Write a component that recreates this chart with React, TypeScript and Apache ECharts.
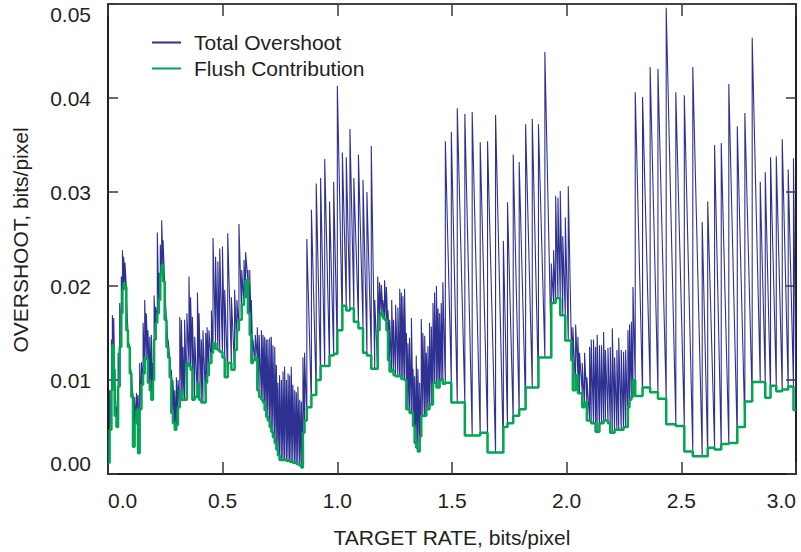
import React, { useEffect, useRef } from "react";
import * as echarts from "echarts";

// ---- Data (x: target rate in bits/pixel, y: overshoot in bits/pixel) ----
// Each entry: a spike position (rate), the total overshoot reached at that rate (total),
// and the flush contribution level that holds from that rate until the next one (flush).

// Segment A1: 0.00 - 0.45 (dense)
const rateA1 = [0.001, 0.007, 0.015, 0.019, 0.025, 0.029, 0.037, 0.044, 0.051, 0.058, 0.063, 0.068, 0.074, 0.080, 0.087, 0.095, 0.102, 0.109, 0.116, 0.124, 0.131, 0.138, 0.146, 0.153, 0.160, 0.167, 0.174, 0.182, 0.189, 0.196, 0.201, 0.208, 0.215, 0.222, 0.228, 0.234, 0.240, 0.247, 0.255, 0.262, 0.269, 0.276, 0.283, 0.291, 0.298, 0.305, 0.313, 0.320, 0.327, 0.334, 0.344, 0.353, 0.360, 0.368, 0.378, 0.390, 0.397, 0.407, 0.414, 0.426, 0.432, 0.440, 0.451];
const totalA1 = [0.0036, 0.0089, 0.0143, 0.0169, 0.0166, 0.0100, 0.0071, 0.0129, 0.0182, 0.0210, 0.0238, 0.0231, 0.0225, 0.0188, 0.0143, 0.0118, 0.0103, 0.0086, 0.0082, 0.0086, 0.0084, 0.0118, 0.0119, 0.0161, 0.0185, 0.0171, 0.0153, 0.0146, 0.0148, 0.0118, 0.0190, 0.0178, 0.0257, 0.0214, 0.0244, 0.0270, 0.0249, 0.0199, 0.0164, 0.0143, 0.0118, 0.0111, 0.0100, 0.0089, 0.0103, 0.0100, 0.0167, 0.0164, 0.0135, 0.0164, 0.0171, 0.0210, 0.0188, 0.0167, 0.0146, 0.0193, 0.0171, 0.0143, 0.0153, 0.0150, 0.0156, 0.0153, 0.0174];
const flushA1 = [0.0012, 0.0047, 0.0089, 0.0137, 0.0111, 0.0062, 0.0050, 0.0093, 0.0135, 0.0171, 0.0196, 0.0203, 0.0199, 0.0153, 0.0135, 0.0107, 0.0082, 0.0029, 0.0054, 0.0068, 0.0022, 0.0069, 0.0095, 0.0107, 0.0124, 0.0122, 0.0097, 0.0089, 0.0079, 0.0100, 0.0143, 0.0161, 0.0171, 0.0185, 0.0212, 0.0222, 0.0205, 0.0164, 0.0135, 0.0124, 0.0103, 0.0065, 0.0054, 0.0047, 0.0052, 0.0071, 0.0089, 0.0079, 0.0079, 0.0079, 0.0118, 0.0115, 0.0111, 0.0079, 0.0082, 0.0097, 0.0079, 0.0076, 0.0076, 0.0097, 0.0105, 0.0118, 0.0129];

// Segment A2: 0.45 - 0.86 (dense)
const rateA2 = [0.458, 0.469, 0.479, 0.487, 0.499, 0.509, 0.522, 0.538, 0.552, 0.562, 0.571, 0.583, 0.593, 0.600, 0.610, 0.618, 0.625, 0.632, 0.642, 0.651, 0.659, 0.669, 0.676, 0.683, 0.690, 0.697, 0.705, 0.712, 0.719, 0.727, 0.734, 0.741, 0.748, 0.756, 0.763, 0.770, 0.778, 0.785, 0.792, 0.799, 0.806, 0.814, 0.821, 0.828, 0.836, 0.843, 0.850, 0.857];
const totalA2 = [0.0251, 0.0231, 0.0226, 0.0240, 0.0242, 0.0196, 0.0256, 0.0188, 0.0196, 0.0185, 0.0266, 0.0217, 0.0228, 0.0236, 0.0217, 0.0217, 0.0185, 0.0143, 0.0148, 0.0156, 0.0148, 0.0153, 0.0148, 0.0146, 0.0143, 0.0143, 0.0145, 0.0146, 0.0137, 0.0135, 0.0116, 0.0097, 0.0105, 0.0100, 0.0109, 0.0114, 0.0100, 0.0107, 0.0105, 0.0114, 0.0095, 0.0089, 0.0087, 0.0093, 0.0079, 0.0077, 0.0124, 0.0129];
const flushA2 = [0.0139, 0.0133, 0.0132, 0.0130, 0.0124, 0.0103, 0.0118, 0.0111, 0.0132, 0.0153, 0.0164, 0.0180, 0.0188, 0.0206, 0.0171, 0.0148, 0.0118, 0.0121, 0.0124, 0.0089, 0.0082, 0.0079, 0.0076, 0.0068, 0.0061, 0.0057, 0.0050, 0.0045, 0.0039, 0.0033, 0.0026, 0.0020, 0.0015, 0.0015, 0.0015, 0.0015, 0.0014, 0.0014, 0.0013, 0.0013, 0.0012, 0.0012, 0.0011, 0.0010, 0.0009, 0.0007, 0.0044, 0.0057];

// Segment B: 0.87 - 1.15 (sparse)
const rateB = [0.867, 0.887, 0.908, 0.927, 0.945, 0.966, 0.984, 1.000, 1.022, 1.039, 1.055, 1.072, 1.092, 1.112, 1.129, 1.148];
const totalB = [0.0250, 0.0281, 0.0309, 0.0315, 0.0335, 0.0290, 0.0311, 0.0413, 0.0342, 0.0337, 0.0367, 0.0315, 0.0340, 0.0313, 0.0300, 0.0349];
const flushB = [0.0071, 0.0084, 0.0100, 0.0115, 0.0115, 0.0126, 0.0128, 0.0153, 0.0179, 0.0174, 0.0176, 0.0162, 0.0155, 0.0129, 0.0126, 0.0112];

// Segment C: 1.16 - 1.46 (dense)
const rateC = [1.163, 1.176, 1.184, 1.192, 1.199, 1.206, 1.214, 1.221, 1.228, 1.237, 1.245, 1.254, 1.264, 1.272, 1.279, 1.286, 1.293, 1.301, 1.308, 1.315, 1.323, 1.330, 1.337, 1.344, 1.351, 1.359, 1.366, 1.373, 1.381, 1.388, 1.395, 1.402, 1.410, 1.417, 1.424, 1.432, 1.439, 1.446, 1.453, 1.460];
const totalC = [0.0185, 0.0210, 0.0204, 0.0201, 0.0185, 0.0206, 0.0199, 0.0174, 0.0164, 0.0185, 0.0164, 0.0180, 0.0177, 0.0197, 0.0193, 0.0189, 0.0197, 0.0150, 0.0139, 0.0145, 0.0166, 0.0112, 0.0104, 0.0126, 0.0112, 0.0097, 0.0165, 0.0150, 0.0147, 0.0129, 0.0136, 0.0161, 0.0157, 0.0182, 0.0193, 0.0200, 0.0176, 0.0171, 0.0182, 0.0204];
const flushC = [0.0112, 0.0153, 0.0169, 0.0172, 0.0166, 0.0164, 0.0153, 0.0121, 0.0109, 0.0111, 0.0105, 0.0104, 0.0104, 0.0104, 0.0101, 0.0101, 0.0100, 0.0069, 0.0069, 0.0065, 0.0065, 0.0051, 0.0033, 0.0028, 0.0024, 0.0040, 0.0062, 0.0062, 0.0062, 0.0069, 0.0069, 0.0074, 0.0074, 0.0097, 0.0097, 0.0092, 0.0092, 0.0100, 0.0101, 0.0096];

// Segment D: 1.47 - 2.01 (sparse)
const rateD = [1.471, 1.497, 1.523, 1.556, 1.588, 1.623, 1.655, 1.690, 1.724, 1.742, 1.767, 1.793, 1.821, 1.850, 1.877, 1.905, 1.933, 1.943, 1.952, 1.962, 1.972, 1.983, 1.994, 2.007];
const totalD = [0.0354, 0.0364, 0.0389, 0.0383, 0.0385, 0.0353, 0.0354, 0.0382, 0.0248, 0.0289, 0.0340, 0.0332, 0.0372, 0.0378, 0.0372, 0.0449, 0.0224, 0.0238, 0.0296, 0.0294, 0.0301, 0.0253, 0.0273, 0.0306];
const flushD = [0.0097, 0.0076, 0.0076, 0.0041, 0.0041, 0.0044, 0.0023, 0.0023, 0.0050, 0.0054, 0.0062, 0.0069, 0.0092, 0.0092, 0.0124, 0.0124, 0.0182, 0.0182, 0.0187, 0.0187, 0.0169, 0.0169, 0.0142, 0.0142];

// Segment E: 2.02 - 2.29 (dense)
const rateE = [2.020, 2.027, 2.039, 2.049, 2.056, 2.068, 2.078, 2.088, 2.100, 2.107, 2.117, 2.126, 2.133, 2.143, 2.152, 2.161, 2.169, 2.180, 2.190, 2.199, 2.209, 2.219, 2.227, 2.238, 2.248, 2.257, 2.267, 2.274, 2.282, 2.289];
const totalE = [0.0156, 0.0156, 0.0159, 0.0146, 0.0129, 0.0118, 0.0129, 0.0103, 0.0135, 0.0143, 0.0143, 0.0135, 0.0148, 0.0137, 0.0137, 0.0151, 0.0132, 0.0134, 0.0135, 0.0155, 0.0124, 0.0132, 0.0145, 0.0132, 0.0130, 0.0132, 0.0153, 0.0159, 0.0162, 0.0199];
const flushE = [0.0121, 0.0089, 0.0105, 0.0086, 0.0086, 0.0071, 0.0076, 0.0057, 0.0057, 0.0054, 0.0054, 0.0045, 0.0045, 0.0054, 0.0054, 0.0057, 0.0057, 0.0054, 0.0044, 0.0044, 0.0047, 0.0047, 0.0047, 0.0047, 0.0050, 0.0050, 0.0071, 0.0079, 0.0082, 0.0100];

// Segment F: 2.30 - 3.00 (sparse)
const rateF = [2.299, 2.331, 2.364, 2.398, 2.434, 2.476, 2.513, 2.550, 2.591, 2.615, 2.645, 2.674, 2.707, 2.744, 2.777, 2.809, 2.844, 2.866, 2.889, 2.914, 2.940, 2.966, 2.989];
const totalF = [0.0406, 0.0401, 0.0433, 0.0431, 0.0496, 0.0406, 0.0403, 0.0433, 0.0268, 0.0290, 0.0350, 0.0352, 0.0415, 0.0370, 0.0384, 0.0464, 0.0311, 0.0321, 0.0337, 0.0338, 0.0356, 0.0324, 0.0336];
const flushF = [0.0083, 0.0092, 0.0087, 0.0080, 0.0053, 0.0051, 0.0024, 0.0019, 0.0019, 0.0028, 0.0026, 0.0032, 0.0033, 0.0050, 0.0077, 0.0098, 0.0098, 0.0081, 0.0094, 0.0088, 0.0090, 0.0093, 0.0068];

const RATE_END = 3.0;

const xTicks = [0, 0.5, 1.0, 1.5, 2.0, 2.5, 3.0];
const yTicks = [0, 0.01, 0.02, 0.03, 0.04, 0.05];

const SERIES_NAMES = ["Total Overshoot", "Flush Contribution"];
const X_NAME = "TARGET RATE, bits/pixel";
const Y_NAME = "OVERSHOOT, bits/pixel";

// ---- Styles ----
const BLUE = "#2e3192";
const GREEN = "#00a651";
const INK = "#231f20";
const FONT = "'Liberation Sans', Arial, Helvetica, sans-serif";
const FS = 21;

function buildSeries() {
  const rate = [...rateA1, ...rateA2, ...rateB, ...rateC, ...rateD, ...rateE, ...rateF];
  const total = [...totalA1, ...totalA2, ...totalB, ...totalC, ...totalD, ...totalE, ...totalF];
  const flush = [...flushA1, ...flushA2, ...flushB, ...flushC, ...flushD, ...flushE, ...flushF];
  const blue: number[][] = [];
  const green: number[][] = [];
  const n = rate.length;
  for (let i = 0; i < n; i++) {
    const next = i + 1 < n ? rate[i + 1] : RATE_END;
    if (i === 0) blue.push([rate[i], flush[i]]);
    blue.push([rate[i], total[i]]);
    blue.push([next, flush[i]]);
    green.push([rate[i], flush[i]]);
  }
  green.push([RATE_END, flush[n - 1]]);
  return { blue, green };
}

export default function App() {
  const ref = useRef<HTMLDivElement>(null);

  useEffect(() => {
    if (!ref.current) return;
    const chart = echarts.init(ref.current, null, { renderer: "svg" });
    const { blue, green } = buildSeries();

    const tickStyle = { color: "#3a3a3a", width: 1.5 };
    const lineStyle = { color: INK, width: 2 };

    chart.setOption({
      animation: false,
      backgroundColor: "#ffffff",
      textStyle: { fontFamily: FONT },
      grid: { left: 108, right: 5, top: 4, bottom: 78 },
      legend: {
        data: SERIES_NAMES,
        orient: "vertical",
        left: 151,
        top: 32,
        padding: 0,
        itemWidth: 29,
        itemHeight: 14,
        itemGap: 5,
        itemStyle: { opacity: 0 },
        textStyle: {
          fontFamily: FONT,
          fontSize: FS,
          color: INK,
          lineHeight: 20,
          padding: [0, 0, 0, 8],
        },
      },
      xAxis: [
        {
          type: "value",
          min: xTicks[0],
          max: xTicks[xTicks.length - 1],
          interval: 0.5,
          position: "bottom",
          axisLine: { show: true, onZero: false, lineStyle },
          axisTick: { show: true, inside: true, length: 12, lineStyle: tickStyle },
          axisLabel: {
            margin: 16,
            fontSize: FS,
            fontFamily: FONT,
            color: INK,
            formatter: (v: number) => v.toFixed(1),
            alignMinLabel: "left",
            alignMaxLabel: "right",
          },
          splitLine: { show: false },
        },
        {
          type: "value",
          min: xTicks[0],
          max: xTicks[xTicks.length - 1],
          interval: 0.5,
          position: "top",
          axisLine: { show: true, onZero: false, lineStyle: { color: "#444", width: 2 } },
          axisTick: { show: true, inside: true, length: 12, lineStyle: tickStyle },
          axisLabel: { show: false },
          splitLine: { show: false },
        },
      ],
      yAxis: [
        {
          type: "value",
          min: yTicks[0],
          max: yTicks[yTicks.length - 1],
          interval: 0.01,
          position: "left",
          axisLine: { show: true, onZero: false, lineStyle },
          axisTick: { show: true, inside: true, length: 10, lineStyle: tickStyle },
          axisLabel: {
            margin: 17,
            fontSize: FS,
            fontFamily: FONT,
            color: INK,
            formatter: (v: number) => v.toFixed(2),
            verticalAlignMinLabel: "bottom",
            verticalAlignMaxLabel: "top",
          },
          splitLine: { show: false },
        },
        {
          type: "value",
          min: yTicks[0],
          max: yTicks[yTicks.length - 1],
          interval: 0.01,
          position: "right",
          axisLine: { show: true, onZero: false, lineStyle },
          axisTick: { show: true, inside: true, length: 10, lineStyle: tickStyle },
          axisLabel: { show: false },
          splitLine: { show: false },
        },
      ],
      series: [
        {
          name: SERIES_NAMES[0],
          type: "line",
          data: blue,
          symbol: "none",
          showSymbol: false,
          lineStyle: { color: BLUE, width: 1.1 },
          itemStyle: { color: BLUE },
          z: 2,
        },
        {
          name: SERIES_NAMES[1],
          type: "line",
          step: "end",
          data: green,
          symbol: "none",
          showSymbol: false,
          lineStyle: { color: GREEN, width: 2.5 },
          itemStyle: { color: GREEN },
          z: 3,
        },
      ],
      graphic: [
        {
          type: "text",
          x: 452,
          y: 537,
          style: {
            text: X_NAME,
            font: `${FS}px ${FONT}`,
            fill: INK,
            textAlign: "center",
            textVerticalAlign: "middle",
          },
        },
        {
          type: "text",
          x: 20,
          y: 240,
          rotation: Math.PI / 2,
          style: {
            text: Y_NAME,
            font: `${FS}px ${FONT}`,
            fill: INK,
            textAlign: "center",
            textVerticalAlign: "middle",
          },
        },
      ],
    });

    return () => chart.dispose();
  }, []);

  return (
    <div
      ref={ref}
      style={{ position: "fixed", left: 0, top: 0, width: 801, height: 552, background: "#fff" }}
    />
  );
}
